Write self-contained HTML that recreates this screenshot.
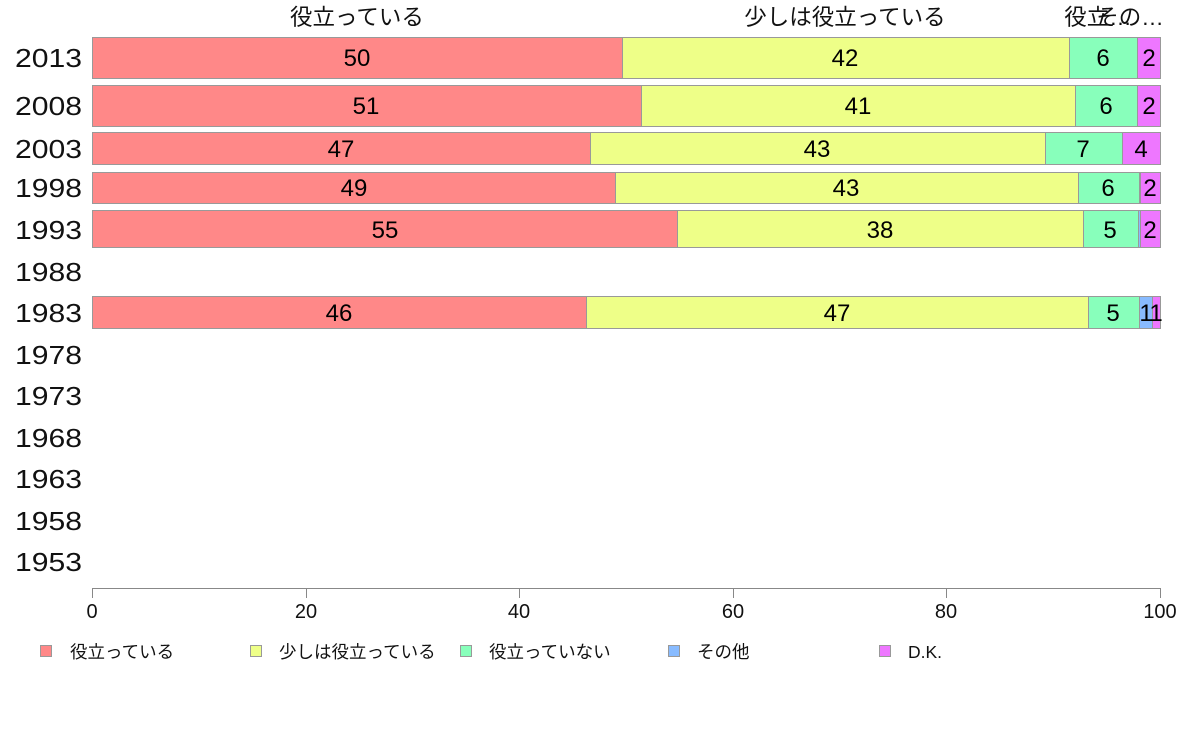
<!DOCTYPE html>
<html><head><meta charset="utf-8"><style>
html,body{margin:0;padding:0;background:#fff;}
svg{display:block;font-family:"Liberation Sans","Noto Sans CJK JP",sans-serif;}
</style></head><body>
<svg width="1188" height="736" viewBox="0 0 1188 736" xmlns="http://www.w3.org/2000/svg">
<g font-size="22.5" fill="#111" text-anchor="middle">
<text x="357" y="25">役立っている</text>
<text x="845" y="25">少しは役立っている</text>
<text x="1098" y="25">役立…</text>
<text x="1130" y="25">その…</text>
</g>
<g font-size="26" fill="#111">
<text x="15" y="67" textLength="67" lengthAdjust="spacingAndGlyphs">2013</text>
<text x="15" y="115" textLength="67" lengthAdjust="spacingAndGlyphs">2008</text>
<text x="15" y="158" textLength="67" lengthAdjust="spacingAndGlyphs">2003</text>
<text x="15" y="197" textLength="67" lengthAdjust="spacingAndGlyphs">1998</text>
<text x="15" y="239" textLength="67" lengthAdjust="spacingAndGlyphs">1993</text>
<text x="15" y="281" textLength="67" lengthAdjust="spacingAndGlyphs">1988</text>
<text x="15" y="322" textLength="67" lengthAdjust="spacingAndGlyphs">1983</text>
<text x="15" y="364" textLength="67" lengthAdjust="spacingAndGlyphs">1978</text>
<text x="15" y="405" textLength="67" lengthAdjust="spacingAndGlyphs">1973</text>
<text x="15" y="447" textLength="67" lengthAdjust="spacingAndGlyphs">1968</text>
<text x="15" y="488" textLength="67" lengthAdjust="spacingAndGlyphs">1963</text>
<text x="15" y="530" textLength="67" lengthAdjust="spacingAndGlyphs">1958</text>
<text x="15" y="571" textLength="67" lengthAdjust="spacingAndGlyphs">1953</text>
</g>
<g stroke="#999" stroke-width="1">
<rect x="92.5" y="37.5" width="530" height="41" fill="#ff8888"/>
<rect x="622.5" y="37.5" width="447" height="41" fill="#eeff88"/>
<rect x="1069.5" y="37.5" width="68" height="41" fill="#88ffbb"/>
<rect x="1137.5" y="37.5" width="23" height="41" fill="#ee77ff"/>
<rect x="92.5" y="85.5" width="549" height="41" fill="#ff8888"/>
<rect x="641.5" y="85.5" width="434" height="41" fill="#eeff88"/>
<rect x="1075.5" y="85.5" width="62" height="41" fill="#88ffbb"/>
<rect x="1137.5" y="85.5" width="23" height="41" fill="#ee77ff"/>
<rect x="92.5" y="132.5" width="498" height="32" fill="#ff8888"/>
<rect x="590.5" y="132.5" width="455" height="32" fill="#eeff88"/>
<rect x="1045.5" y="132.5" width="77" height="32" fill="#88ffbb"/>
<rect x="1122.5" y="132.5" width="38" height="32" fill="#ee77ff"/>
<rect x="92.5" y="172.5" width="523" height="31" fill="#ff8888"/>
<rect x="615.5" y="172.5" width="463" height="31" fill="#eeff88"/>
<rect x="1078.5" y="172.5" width="61" height="31" fill="#88ffbb"/>
<rect x="1139.5" y="172.5" width="1" height="31" fill="#88bbff"/>
<rect x="1140.5" y="172.5" width="20" height="31" fill="#ee77ff"/>
<rect x="92.5" y="210.5" width="585" height="37" fill="#ff8888"/>
<rect x="677.5" y="210.5" width="406" height="37" fill="#eeff88"/>
<rect x="1083.5" y="210.5" width="55" height="37" fill="#88ffbb"/>
<rect x="1138.5" y="210.5" width="2" height="37" fill="#88bbff"/>
<rect x="1140.5" y="210.5" width="20" height="37" fill="#ee77ff"/>
<rect x="92.5" y="296.5" width="494" height="32" fill="#ff8888"/>
<rect x="586.5" y="296.5" width="502" height="32" fill="#eeff88"/>
<rect x="1088.5" y="296.5" width="51" height="32" fill="#88ffbb"/>
<rect x="1139.5" y="296.5" width="13" height="32" fill="#88bbff"/>
<rect x="1152.5" y="296.5" width="8" height="32" fill="#ee77ff"/>
</g>
<g font-size="24" fill="#000" text-anchor="middle">
<text x="357" y="66">50</text><text x="845" y="66">42</text><text x="1103" y="66">6</text><text x="1149" y="66">2</text>
<text x="366" y="114">51</text><text x="858" y="114">41</text><text x="1106" y="114">6</text><text x="1149" y="114">2</text>
<text x="341" y="157">47</text><text x="817" y="157">43</text><text x="1083" y="157">7</text><text x="1141" y="157">4</text>
<text x="354" y="196">49</text><text x="846" y="196">43</text><text x="1108" y="196">6</text><text x="1150" y="196">2</text>
<text x="385" y="238">55</text><text x="880" y="238">38</text><text x="1110" y="238">5</text><text x="1150" y="238">2</text>
<text x="339" y="321">46</text><text x="837" y="321">47</text><text x="1113" y="321">5</text><text x="1146" y="321">1</text><text x="1156" y="321">1</text>
</g>
<g stroke="#888" stroke-width="1">
<line x1="92.5" y1="588.5" x2="1160.5" y2="588.5"/>
<line x1="92.5" y1="588" x2="92.5" y2="598"/>
<line x1="306.5" y1="588" x2="306.5" y2="598"/>
<line x1="519.5" y1="588" x2="519.5" y2="598"/>
<line x1="733.5" y1="588" x2="733.5" y2="598"/>
<line x1="946.5" y1="588" x2="946.5" y2="598"/>
<line x1="1160.5" y1="588" x2="1160.5" y2="598"/>
</g>
<g font-size="20" fill="#111" text-anchor="middle">
<text x="92" y="618">0</text><text x="306" y="618">20</text><text x="519" y="618">40</text>
<text x="733" y="618">60</text><text x="946" y="618">80</text><text x="1160" y="618">100</text>
</g>
<g stroke="#999" stroke-width="1">
<rect x="40.5" y="645.5" width="11" height="11" fill="#ff8888"/>
<rect x="250.5" y="645.5" width="11" height="11" fill="#eeff88"/>
<rect x="460.5" y="645.5" width="11" height="11" fill="#88ffbb"/>
<rect x="668.5" y="645.5" width="11" height="11" fill="#88bbff"/>
<rect x="879.5" y="645.5" width="11" height="11" fill="#ee77ff"/>
</g>
<g font-size="17.5" fill="#111">
<text x="70" y="658">役立っている</text>
<text x="279" y="658">少しは役立っている</text>
<text x="489" y="658">役立っていない</text>
<text x="697" y="658">その他</text>
<text x="908" y="658">D.K.</text>
</g>
</svg>
</body></html>
